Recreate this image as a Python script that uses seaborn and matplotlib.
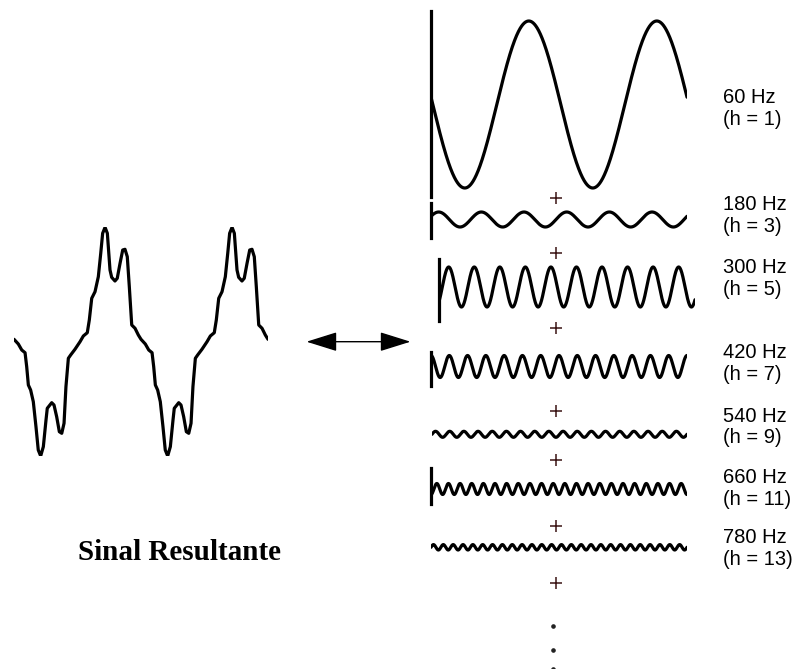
import numpy as np
import pandas as pd
import matplotlib
matplotlib.use("Agg")
import matplotlib.pyplot as plt
from matplotlib.patches import FancyArrowPatch, ArrowStyle
import seaborn as sns

# Harmonic content of the distorted signal
orders = [1, 3, 5, 7, 9, 11, 13]
freqs_hz = [60, 180, 300, 420, 540, 660, 780]
amplitudes = [83.5, 7.5, 20.0, 11.0, 3.0, 5.5, 2.7]
# position of the first crest, in cycles of each harmonic
crest_phase = [0.764, 0.18, 0.36, 0.0, 0.25, 0.5, 0.25]
labels_freq = [f"{f} Hz" for f in freqs_hz]
labels_order = [f"(h = {h})" for h in orders]

# One period of the resulting waveform (fraction of period, value)
res_phase = [0.000, 0.034, 0.061, 0.087, 0.100, 0.113, 0.131, 0.152, 0.173,
             0.191, 0.210, 0.231, 0.252, 0.262, 0.297, 0.315, 0.336, 0.357,
             0.376, 0.394, 0.409, 0.428, 0.446, 0.480, 0.520, 0.546, 0.577,
             0.593, 0.612, 0.638, 0.664, 0.683, 0.698, 0.717, 0.735, 0.756,
             0.769, 0.795, 0.813, 0.835, 0.856, 0.874, 0.892, 0.908, 0.927,
             0.953, 0.979, 1.000]
res_value = [2.4, -2.3, -8.3, -11.0, -25.0, -43.3, -48.3, -60.0, -85.0,
             -108.3, -114.3, -105.0, -78.3, -66.6, -61.0, -63.3, -75.0, -90.0,
             -91.6, -81.6, -45.0, -16.6, -13.3, -7.6, 0.0, 5.7, 9.0,
             21.7, 43.4, 50.0, 65.0, 88.4, 108.4, 114.4, 108.4, 71.7,
             64.4, 60.7, 63.4, 78.4, 91.7, 92.4, 85.0, 55.0, 16.7,
             13.4, 6.7, 2.4]
n_cycles = 2

W, H = 803, 669
sns.set_theme(style="white")
plt.rcParams["font.family"] = ["Liberation Sans", "DejaVu Sans"]

fig = plt.figure(figsize=(W / 100, H / 100), dpi=100)
fig.patch.set_facecolor("white")


def px_axes(left, right, top, bottom):
    ax = fig.add_axes([left / W, 1 - bottom / H, (right - left) / W, (bottom - top) / H])
    ax.set_facecolor("none")
    ax.set_xticks([])
    ax.set_yticks([])
    for s in ax.spines.values():
        s.set_visible(False)
    return ax


# overlay in pixel units for labels, arrow and separators
ov = px_axes(0, W, 0, H)
ov.set_xlim(0, W)
ov.set_ylim(H, 0)

# resulting signal
res_df = pd.DataFrame({
    "t": np.concatenate([np.array(res_phase) + k for k in range(n_cycles)]),
    "v": np.concatenate([res_value for _ in range(n_cycles)]),
})
ax_r = px_axes(14, 268, 227.3, 456)
sns.lineplot(data=res_df, x="t", y="v", ax=ax_r, color="black", lw=2.3,
             sort=False, estimator=None)
ax_r.lines[0].set_solid_joinstyle("round")
ax_r.set_xlim(0, n_cycles)
ax_r.set_ylim(-114.3, 114.4)
ax_r.set_xlabel("")
ax_r.set_ylabel("")

# row frames: left, right, top, bottom, midline, draw axis line
rows = [
    (431, 687, 11, 197, 104.5, True),
    (431, 687, 202.5, 238, 219.5, True),
    (439.5, 695, 259, 321, 287, True),
    (431, 687, 351.5, 386, 366.5, True),
    (432, 687, 424, 444, 434.3, False),
    (431, 687, 468, 503.5, 489, True),
    (431, 687, 537, 557, 547.3, False),
]

t = np.linspace(0, n_cycles, 2400)
for h, amp, ph, (l, r, top, bot, mid, axis_line) in zip(orders, amplitudes, crest_phase, rows):
    ax = px_axes(l, r, top, bot)
    wave = pd.DataFrame({"t": t, "v": amp * np.cos(2 * np.pi * (h * t - ph))})
    sns.lineplot(data=wave, x="t", y="v", ax=ax, color="black", lw=2.3,
                 sort=False, estimator=None)
    ax.set_xlim(0, n_cycles)
    ax.set_ylim(-(bot - mid), mid - top)
    ax.set_xlabel("")
    ax.set_ylabel("")
    if axis_line:
        ax.spines["left"].set_visible(True)
        ax.spines["left"].set_color("black")
        ax.spines["left"].set_linewidth(2.3)

# frequency labels
base_freq = [103.3, 210, 273.3, 358.3, 421.7, 483.3, 543.3]
for y0, s1, s2 in zip(base_freq, labels_freq, labels_order):
    ov.text(723, y0, s1, ha="left", va="baseline", fontsize=14.5, color="black")
    ov.text(723, y0 + 21.5, s2, ha="left", va="baseline", fontsize=14.5, color="black")

# plus signs between the components and continuation dots
plus_y = [198, 252.7, 328.3, 411, 460, 525.5, 583.3]
ov.plot([556] * len(plus_y), plus_y, ls="none", marker="+", ms=8.5, mew=1.1,
        color="#3a1414")
dots_y = [626, 650, 668.5]
ov.plot([553.3] * len(dots_y), dots_y, ls="none", marker="o", ms=2.3,
        color="#222222")

# double arrow
arr = FancyArrowPatch((306.5, 341.7), (410.5, 341.7),
                      arrowstyle=ArrowStyle("<|-|>", head_length=19.2, head_width=6.0),
                      mutation_scale=1, lw=1.0, color="black",
                      shrinkA=0, shrinkB=0)
ov.add_patch(arr)

ov.text(180, 552, "Sinal Resultante", ha="center", va="center", fontsize=21,
        fontweight="bold", family=["Liberation Serif", "DejaVu Serif"], color="black")

fig.savefig("out.png", dpi=100, facecolor="white")
